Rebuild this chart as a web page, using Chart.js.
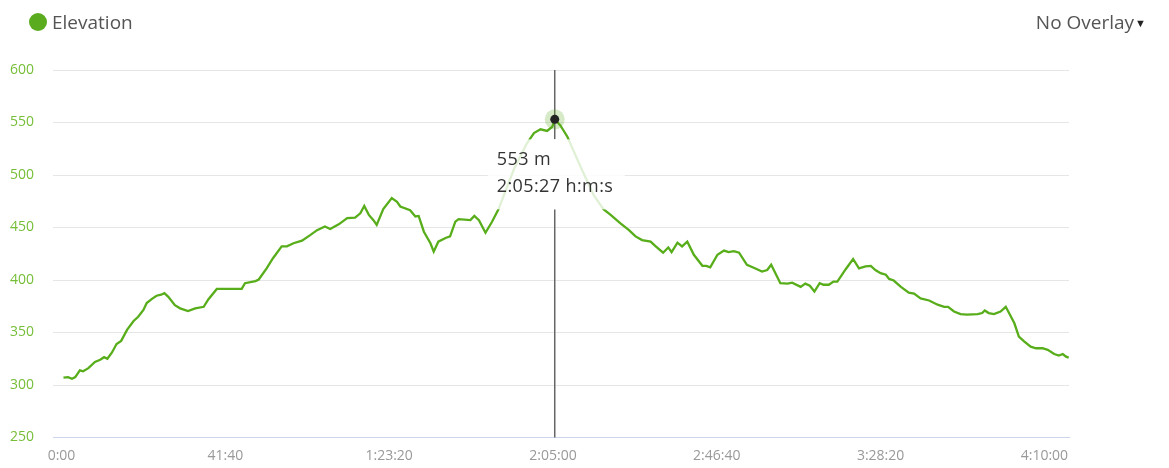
<!DOCTYPE html>
<html>
<head>
<meta charset="utf-8">
<script src="https://cdn.jsdelivr.net/npm/chart.js@4"></script>
<style>
  body { margin: 0; background: #fff; font-family: 'Open Sans', sans-serif; }
  #wrap { position: relative; width: 1169px; height: 468px; overflow: hidden; }
  #chart { position: absolute; left: 0; top: 0; }
  .legend-dot { position: absolute; left: 29px; top: 13px; width: 18px; height: 18px; border-radius: 50%; background: #5aab1e; }
  .legend-text { position: absolute; left: 52px; top: 12px; font-size: 19px; line-height: 20px; color: #555; }
  .overlay { position: absolute; right: 23px; top: 12px; font-size: 19px; line-height: 20px; color: #555; }
  .overlay span { font-size: 11px; color: #222; vertical-align: 2px; margin-left: 1px; }
</style>
</head>
<body>
<div id="wrap">
  <canvas id="chart" width="1169" height="468"></canvas>
  <div class="legend-dot"></div>
  <div class="legend-text">Elevation</div>
  <div class="overlay">No Overlay<span>▼</span></div>
</div>
<script>
// elapsed time (s) and elevation (m)
const times = [
  30, 100, 160, 210, 280, 330, 410, 510, 590, 650, 700, 770, 840, 910, 1000,
  1100, 1170, 1250, 1300, 1380, 1450, 1520, 1570, 1630, 1730, 1810, 1930, 2040, 2170, 2240,
  2370, 2550, 2750, 2800, 2960, 3010, 3130, 3230, 3360, 3440, 3540, 3670, 3800, 3900, 4020,
  4100, 4230, 4360, 4480, 4560, 4620, 4690, 4760, 4810, 4910, 5040, 5120, 5170, 5320, 5400,
  5450, 5530, 5630, 5680, 5750, 5860, 5930, 6010, 6060, 6240, 6300, 6370, 6470, 6570, 6670,
  6900, 7100, 7210, 7310, 7410, 7490, 7527, 7610, 7720, 7920, 8120, 8270, 8380, 8530, 8660,
  8760, 8860, 8990, 9060, 9180, 9260, 9310, 9400, 9470, 9550, 9650, 9780, 9840, 9900, 10010,
  10110, 10180, 10260, 10340, 10460, 10590, 10690, 10770, 10830, 10970, 11080, 11150, 11280, 11350, 11420,
  11490, 11570, 11630, 11710, 11780, 11840, 11970, 12080, 12170, 12270, 12350, 12420, 12500, 12580, 12630,
  12700, 12810, 12930, 13010, 13110, 13240, 13370, 13470, 13530, 13620, 13720, 13820, 13980, 14050, 14090,
  14150, 14230, 14330, 14410, 14490, 14540, 14610, 14690, 14790, 14870, 14970, 15050, 15150, 15220, 15280,
  15330, 15370
];
const elevations = [
  307, 307.5, 306, 307.5, 314, 313, 316, 322, 324, 326.5, 325, 331, 339, 342, 352.5,
  361, 365, 371.5, 378, 382, 385, 386, 387.5, 384, 376, 373, 370.5, 373, 374.5, 381.5,
  391.5, 391.5, 391.5, 397, 399, 400.5, 411, 421, 432, 432, 435, 437.5, 443, 447.5, 451,
  448.5, 453, 459, 459.5, 463.5, 470.5, 462, 457, 452.5, 467.5, 478, 474.5, 470, 466.5, 460.5,
  461, 446, 435, 427, 436.5, 440, 441.5, 455.5, 458, 457, 461, 457, 445, 455.5, 467.5,
  505, 530, 540, 543.5, 542, 546, 553, 547.5, 536.5, 508, 481, 467.5, 462, 454, 447.5,
  441.5, 438, 436.5, 432.5, 426, 431, 426.5, 435.5, 432, 436.5, 424, 413.5, 413.5, 412, 424,
  428, 426.5, 427.5, 426, 414.5, 411, 408, 409.5, 414.5, 397, 396.5, 397.5, 393.5, 396.5, 394.5,
  389, 397, 395.5, 395.5, 398.5, 398.5, 410.5, 420, 411, 413, 413.5, 409.5, 406.5, 405, 401,
  399.5, 393.5, 388, 387, 382.5, 380.5, 376.5, 374.5, 374.5, 370, 367.5, 367, 367.5, 368.5, 371,
  368.5, 367.5, 370, 374.5, 365, 359, 346, 341.5, 336.5, 335, 335, 333.5, 329.5, 328, 329.5,
  327, 326
];
const xTickValues = [0, 2500, 5000, 7500, 10000, 12500, 15000];
const yMin = 250, yMax = 600, yStep = 50;
const xMin = -130, xMax = 15375;
const activeTime = 7527; // point under the cursor

const lineColor = '#57ad1a';

function fmtTime(sec) {
  const h = Math.floor(sec / 3600);
  const m = Math.floor((sec % 3600) / 60);
  const s = Math.round(sec % 60);
  const pad = n => String(n).padStart(2, '0');
  return h > 0 ? h + ':' + pad(m) + ':' + pad(s) : m + ':' + pad(s);
}

// crosshair + hover label like the original widget
const hoverPlugin = {
  id: 'hover',
  afterDatasetsDraw(chart) {
    const idx = times.indexOf(activeTime);
    const pt = chart.getDatasetMeta(0).data[idx];
    if (!pt) return;
    const ctx = chart.ctx;
    const area = chart.chartArea;
    const bx = pt.x - 67, by = pt.y + 20, bw = 137, bh = 70;

    ctx.save();
    // crosshair, broken where the label sits
    ctx.strokeStyle = '#666';
    ctx.lineWidth = 1.5;
    ctx.beginPath();
    ctx.moveTo(pt.x, area.top);
    ctx.lineTo(pt.x, by);
    ctx.moveTo(pt.x, by + bh);
    ctx.lineTo(pt.x, area.bottom);
    ctx.stroke();

    // label box
    ctx.fillStyle = 'rgba(255,255,255,0.82)';
    ctx.fillRect(bx, by, bw, bh);
    ctx.fillStyle = '#333';
    ctx.font = "18px 'Open Sans'";
    ctx.letterSpacing = '0.4px';
    ctx.textBaseline = 'middle';
    ctx.textAlign = 'left';
    ctx.fillText(elevations[idx] + ' m', bx + 9, by + 21);
    ctx.fillText(fmtTime(times[idx]) + ' h:m:s', bx + 9, by + 48);

    // marker
    ctx.fillStyle = 'rgba(90,171,30,0.25)';
    ctx.beginPath();
    ctx.arc(pt.x, pt.y, 10, 0, Math.PI * 2);
    ctx.fill();
    ctx.fillStyle = '#222';
    ctx.beginPath();
    ctx.arc(pt.x, pt.y, 4.5, 0, Math.PI * 2);
    ctx.fill();
    ctx.restore();
  }
};

Chart.defaults.font.family = "'Open Sans', sans-serif";

new Chart(document.getElementById('chart'), {
  type: 'line',
  data: {
    datasets: [{
      label: 'Elevation',
      data: times.map((t, i) => ({ x: t, y: elevations[i] })),
      borderColor: lineColor,
      borderWidth: 2.3,
      pointRadius: 0,
      tension: 0,
      fill: false
    }]
  },
  options: {
    responsive: false,
    animation: false,
    events: [],
    layout: { padding: { top: 70, right: 100, left: 0, bottom: 0 } },
    plugins: { legend: { display: false }, tooltip: { enabled: false } },
    scales: {
      x: {
        type: 'linear',
        min: xMin,
        max: xMax,
        afterFit(axis) { axis.height = 30.5; },
        afterBuildTicks(axis) { axis.ticks = xTickValues.map(v => ({ value: v })); },
        grid: { display: false, drawTicks: false },
        border: { display: true, color: '#ccd6eb', width: 1 },
        ticks: {
          padding: 10,
          color: '#999',
          font: { size: 14 },
          maxRotation: 0,
          autoSkip: false,
          callback: v => fmtTime(v)
        }
      },
      y: {
        min: yMin,
        max: yMax,
        afterFit(axis) { axis.width = 53; },
        grid: { color: '#e6e6e6', lineWidth: 1, drawTicks: false },
        border: { display: false },
        ticks: {
          stepSize: yStep,
          padding: 19,
          color: '#76be38',
          font: { size: 14 }
        }
      }
    }
  },
  plugins: [hoverPlugin]
});
</script>
</body>
</html>
